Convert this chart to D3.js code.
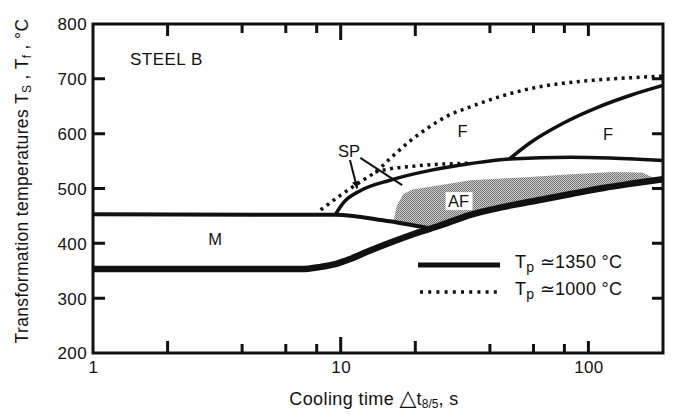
<!DOCTYPE html>
<html><head><meta charset="utf-8">
<script src="https://cdn.jsdelivr.net/npm/d3@7"></script>
<style>
body{margin:0;background:#fff}
svg{display:block}
text{font-family:"Liberation Sans",Arial,Helvetica,sans-serif;fill:#111}
</style>
</head><body>
<svg id="c" width="676" height="417"></svg>
<script>
// ---------- data ----------
const xTickValues = [2, 4, 6, 8, 10, 20, 40, 60, 80, 100];
const xLongTicks = [10];
const xMidTicks = [2, 20, 100];
const xTickLabels = [1, 10, 100];
const yTickValues = [200, 300, 400, 500, 600, 700, 800];
const yInnerTicks = [300, 400, 500, 600, 700];

// Tp = 1350 °C (solid)
const lowerTime = [1, 6.9, 8.3, 9.5, 11, 13, 16, 20, 25, 33.4, 45, 62, 85, 115, 150, 200];
const lowerTemp = [353, 353, 357, 362, 372, 386, 402, 418, 432, 452, 466, 478, 490, 501, 509, 517];
const mUpperTime = [1, 9.5, 14.8, 23];
const mUpperTemp = [453, 452, 442, 427];
const spTime = [9.5, 10.3, 12, 15.8, 23, 33, 48, 85, 200];
const spTemp = [452, 475, 496, 515, 533, 545, 554, 557, 551];
const fTime = [48, 58, 79, 109, 148, 200];
const fTemp = [554, 583, 619, 648, 670, 688];

// Tp = 1000 °C (dotted)
const dotTime = [8.3, 10, 12, 13.8, 16.3, 19.1, 22.4, 26.9, 33.4, 45, 58, 79, 109, 148, 200];
const dotTemp = [461, 488, 512, 530, 560, 587, 610, 632, 649, 669, 682, 692, 698, 702, 705];
const dotBranchTime = [13.8, 16.3, 19.1, 22.4, 27, 33];
const dotBranchTemp = [530, 537, 540, 543, 545, 546];

// AF shaded region (upper boundary)
const afTopTime = [16.3, 16.9, 17.9, 19.5, 23, 33.4, 58, 85, 125, 165, 182];
const afTopTemp = [440, 470, 490, 498, 503, 515, 521, 526, 530, 529, 520];

// labels [text, time, temp]
const regionLabels = [["M", 3.11, 408], ["F", 31, 605], ["F", 120, 599], ["SP", 10.8, 568]];

// ---------- chart ----------
const svg = d3.select("#c");
const x = d3.scaleLog().domain([1, 200]).range([93, 663]);
const y = d3.scaleLinear().domain([200, 800]).range([353, 24]);
const zip = (a, b) => a.map((v, i) => [v, b[i]]);
const line = d3.line().x(d => x(d[0])).y(d => y(d[1])).curve(d3.curveMonotoneX);
const ink = "#111";

const defs = svg.append("defs");
const pat = defs.append("pattern").attr("id", "dots").attr("width", 2).attr("height", 2)
  .attr("patternUnits", "userSpaceOnUse");
pat.append("rect").attr("width", 2).attr("height", 2).attr("fill", "#d0d0d0");
pat.append("rect").attr("width", 1).attr("height", 1).attr("fill", "#6a6a6a");
pat.append("rect").attr("x", 1).attr("y", 1).attr("width", 1).attr("height", 1).attr("fill", "#7a7a7a");
defs.append("marker").attr("id", "arr").attr("viewBox", "0 0 10 10").attr("refX", 10).attr("refY", 5)
  .attr("markerWidth", 10).attr("markerHeight", 7).attr("markerUnits", "userSpaceOnUse")
  .attr("orient", "auto")
  .append("path").attr("d", "M0,0 L10,5 L0,10 Z").attr("fill", ink);

// AF polygon
const lowerPts = zip(lowerTime, lowerTemp);
const afPts = zip(afTopTime, afTopTemp)
  .concat(lowerPts.filter(p => p[0] > 23 && p[0] < 182).reverse())
  .concat([[23, 427], [19, 433]]);
svg.append("path")
  .attr("d", d3.line().x(d => x(d[0])).y(d => y(d[1])).curve(d3.curveLinearClosed)(afPts))
  .attr("fill", "url(#dots)");

// solid curves
svg.append("path").attr("d", line(zip(mUpperTime, mUpperTemp)))
  .attr("fill", "none").attr("stroke", ink).attr("stroke-width", 4);
svg.append("path").attr("d", line(zip(spTime, spTemp)))
  .attr("fill", "none").attr("stroke", ink).attr("stroke-width", 3.5);
svg.append("path").attr("d", line(zip(fTime, fTemp)))
  .attr("fill", "none").attr("stroke", ink).attr("stroke-width", 3.5);
svg.append("path").attr("d", line(lowerPts))
  .attr("fill", "none").attr("stroke", ink).attr("stroke-width", 6.5);

// dotted curves
svg.append("path").attr("d", line(zip(dotTime, dotTemp)))
  .attr("fill", "none").attr("stroke", ink).attr("stroke-width", 3.5).attr("stroke-dasharray", "3 4.5");
svg.append("path").attr("d", line(zip(dotBranchTime, dotBranchTemp)))
  .attr("fill", "none").attr("stroke", ink).attr("stroke-width", 3.5).attr("stroke-dasharray", "3 4.5");

// SP pointers
svg.append("line").attr("x1", x(10.9)).attr("y1", y(552)).attr("x2", x(11.65)).attr("y2", y(500))
  .attr("stroke", ink).attr("stroke-width", 2).attr("marker-end", "url(#arr)");
svg.append("line").attr("x1", x(12.0)).attr("y1", y(556)).attr("x2", x(17.7)).attr("y2", y(506))
  .attr("stroke", ink).attr("stroke-width", 2);

// AF label with white box
const afG = svg.append("g").attr("transform", `translate(${x(29.9)},${y(477)})`);
afG.append("rect").attr("x", -13).attr("y", -9).attr("width", 27).attr("height", 18).attr("fill", "#fff");
afG.append("text").attr("text-anchor", "middle").attr("y", 6).attr("font-size", 16.5).text("AF");

// region labels
svg.selectAll("text.reg").data(regionLabels).enter().append("text").attr("class", "reg")
  .attr("x", d => x(d[1])).attr("y", d => y(d[2]) + 6).attr("text-anchor", "middle")
  .attr("font-size", 16.5).text(d => d[0]);

svg.append("text").attr("x", x(1.41)).attr("y", y(725)).attr("font-size", 17)
  .attr("letter-spacing", 0.5).text("STEEL B");

// ---------- frame + inward ticks as one path ----------
const tickLen = d => xLongTicks.includes(d) ? 16 : (xMidTicks.includes(d) ? 12 : 9);
const fL = x(1), fR = x(200), fT = y(800), fB = y(200);
let frameD = `M${fL},${fT}H${fR}V${fB}H${fL}Z`;
xTickValues.forEach(v => {
  const px = x(v).toFixed(1);
  frameD += `M${px},${fB}v${-tickLen(v)}M${px},${fT}v${tickLen(v)}`;
});
yInnerTicks.forEach(v => {
  const py = y(v).toFixed(1);
  frameD += `M${fL},${py}h12M${fR},${py}h-11`;
});
svg.append("path").attr("d", frameD).attr("fill", "none").attr("stroke", ink)
  .attr("stroke-width", 3).attr("stroke-linejoin", "miter");

// tick labels via d3 axes
const gxl = svg.append("g").attr("transform", `translate(0,${y(200)})`)
  .call(d3.axisBottom(x).tickValues(xTickLabels).tickSize(0).tickFormat(d3.format("d")));
gxl.select(".domain").remove();
gxl.attr("font-family", null).attr("font-size", null);
gxl.selectAll(".tick text").attr("y", 20).attr("dy", 0).attr("font-size", 17)
  .attr("letter-spacing", 0.4).attr("fill", ink);

const gyl = svg.append("g").attr("transform", `translate(${x(1)},0)`)
  .call(d3.axisLeft(y).tickValues(yTickValues).tickSize(0).tickFormat(d3.format("d")));
gyl.select(".domain").remove();
gyl.attr("font-family", null).attr("font-size", null);
gyl.selectAll(".tick text").attr("x", -6).attr("dy", "0.35em").attr("font-size", 17)
  .attr("letter-spacing", 0.4).attr("fill", ink);

// axis titles
const xt = svg.append("text").attr("x", 374).attr("y", 405).attr("text-anchor", "middle")
  .attr("font-size", 18).attr("letter-spacing", 0.4);
xt.append("tspan").text("Cooling time ");
xt.append("tspan").attr("font-size", 22).attr("font-family", "DejaVu Sans").attr("letter-spacing", 0).text("\u25B3");
xt.append("tspan").text("t");
xt.append("tspan").attr("font-size", 12).attr("dy", 3).attr("letter-spacing", 0).text("8/5");
xt.append("tspan").attr("dy", -3).text(", s");

const yt = svg.append("text").attr("transform", "translate(28,181) rotate(-90)").attr("text-anchor", "middle")
  .attr("font-size", 17.5).attr("letter-spacing", 0.35);
yt.append("tspan").text("Transformation temperatures  T");
yt.append("tspan").attr("font-size", 12).attr("dy", 3).text("S");
yt.append("tspan").attr("dy", -3).text(" , T");
yt.append("tspan").attr("font-size", 12).attr("dy", 3).text("f");
yt.append("tspan").attr("dy", -3).text(" , \u00B0C");

// legend
const legendLabels = ["1350", "1000"];
const legendStyles = ["solid", "dot"];
legendLabels.forEach((lab, i) => {
  const ly = 265 + i * 27;
  const l = svg.append("line").attr("x1", 418).attr("x2", 500).attr("y1", ly).attr("y2", ly)
    .attr("stroke", ink);
  if (legendStyles[i] === "solid") l.attr("stroke-width", 5);
  else l.attr("x1", 420).attr("stroke-width", 3.5).attr("stroke-dasharray", "3 5.2");
  const t = svg.append("text").attr("x", 515).attr("y", ly + 3).attr("font-size", 18).attr("letter-spacing", 0.3);
  t.append("tspan").text("T");
  t.append("tspan").attr("font-size", 14).attr("dy", 4).text("p");
  t.append("tspan").attr("dy", -4).text(" \u2243" + lab + " \u00B0C");
});
</script>
</body></html>
